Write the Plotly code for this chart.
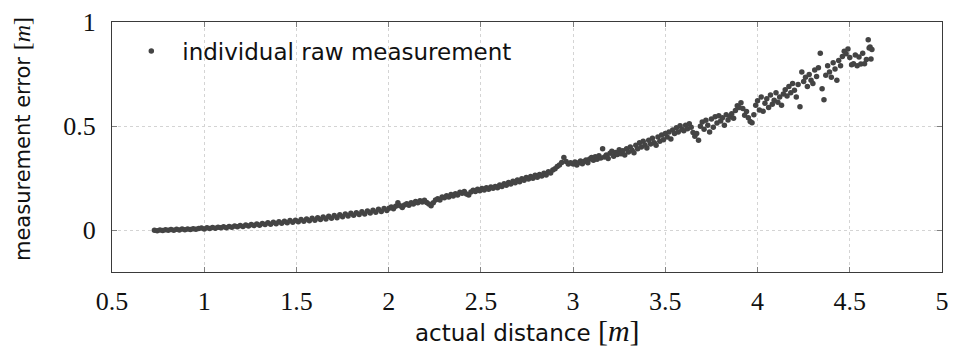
import plotly.graph_objects as go

# ---- data ----
distance_a = [0.730, 0.745, 0.760, 0.775, 0.790, 0.805, 0.820, 0.835, 0.850, 0.865,
              0.880, 0.895, 0.910, 0.925, 0.940, 0.955, 0.970, 0.985, 1.000, 1.015,
              1.030, 1.045, 1.060, 1.075, 1.090, 1.105, 1.120, 1.135, 1.150, 1.165,
              1.180, 1.195, 1.210, 1.225, 1.240, 1.255, 1.270, 1.285, 1.300, 1.315,
              1.330, 1.345, 1.360, 1.375, 1.390, 1.405, 1.420, 1.435, 1.450, 1.465,
              1.480, 1.495, 1.510, 1.525, 1.540, 1.555, 1.570, 1.585, 1.600, 1.615,
              1.630, 1.645, 1.660, 1.675, 1.690, 1.705, 1.720, 1.735, 1.750, 1.765,
              1.780, 1.795, 1.810, 1.825, 1.840, 1.855, 1.870, 1.885, 1.900, 1.915,
              1.930, 1.945, 1.960, 1.975, 1.990]
error_a = [0.000, -0.002, 0.002, -0.001, 0.003, 0.000, 0.004, 0.001, 0.005, 0.002,
           0.006, 0.003, 0.007, 0.004, 0.008, 0.005, 0.009, 0.011, 0.007, 0.012,
           0.009, 0.014, 0.010, 0.015, 0.012, 0.017, 0.013, 0.019, 0.015, 0.021,
           0.017, 0.023, 0.019, 0.026, 0.021, 0.028, 0.023, 0.031, 0.025, 0.033,
           0.028, 0.036, 0.029, 0.039, 0.032, 0.041, 0.034, 0.044, 0.036, 0.047,
           0.039, 0.049, 0.041, 0.052, 0.044, 0.055, 0.046, 0.058, 0.049, 0.061,
           0.052, 0.064, 0.055, 0.068, 0.058, 0.071, 0.061, 0.075, 0.065, 0.078,
           0.069, 0.082, 0.072, 0.085, 0.076, 0.089, 0.079, 0.093, 0.083, 0.097,
           0.087, 0.101, 0.091, 0.105, 0.095]

distance_b = [2.002, 2.014, 2.026, 2.038, 2.050, 2.062, 2.074, 2.086, 2.098, 2.110,
              2.122, 2.134, 2.146, 2.158, 2.170, 2.182, 2.194, 2.206, 2.218, 2.230,
              2.242, 2.254, 2.266, 2.278, 2.290, 2.302, 2.314, 2.326, 2.338, 2.350,
              2.362, 2.374, 2.386, 2.398, 2.410, 2.422, 2.434, 2.446, 2.458, 2.470,
              2.482, 2.494, 2.506, 2.518, 2.530, 2.542, 2.554, 2.566, 2.578, 2.590,
              2.602, 2.614, 2.626, 2.638, 2.650, 2.662, 2.674, 2.686, 2.698, 2.710,
              2.722, 2.734, 2.746, 2.758, 2.770, 2.782, 2.794, 2.806, 2.818, 2.830,
              2.842, 2.854, 2.866, 2.878, 2.890, 2.902, 2.914, 2.926, 2.938, 2.950,
              2.962, 2.974, 2.986]
error_b = [0.106, 0.112, 0.104, 0.116, 0.132, 0.118, 0.110, 0.122, 0.128, 0.120,
           0.133, 0.127, 0.138, 0.132, 0.142, 0.136, 0.145, 0.134, 0.126, 0.118,
           0.132, 0.146, 0.152, 0.146, 0.160, 0.156, 0.166, 0.160, 0.172, 0.165,
           0.176, 0.170, 0.183, 0.178, 0.186, 0.174, 0.170, 0.184, 0.192, 0.186,
           0.197, 0.190, 0.201, 0.194, 0.204, 0.197, 0.208, 0.202, 0.211, 0.205,
           0.218, 0.211, 0.224, 0.216, 0.230, 0.222, 0.236, 0.228, 0.242, 0.233,
           0.248, 0.240, 0.254, 0.246, 0.258, 0.250, 0.264, 0.255, 0.268, 0.261,
           0.274, 0.266, 0.281, 0.275, 0.290, 0.296, 0.306, 0.314, 0.326, 0.350,
           0.330, 0.318, 0.324]

distance_c = [3.00, 3.01, 3.02, 3.03, 3.04, 3.05, 3.06, 3.07, 3.08, 3.09,
              3.10, 3.11, 3.12, 3.13, 3.14, 3.15, 3.16, 3.17, 3.18, 3.19,
              3.20, 3.21, 3.22, 3.23, 3.24, 3.25, 3.26, 3.27, 3.28, 3.29,
              3.30, 3.31, 3.32, 3.33, 3.34, 3.35, 3.36, 3.37, 3.38, 3.39,
              3.40, 3.41, 3.42, 3.43, 3.44, 3.45, 3.46, 3.47, 3.48, 3.49,
              3.50, 3.51, 3.52, 3.53, 3.54, 3.55, 3.56, 3.57, 3.58, 3.59,
              3.60, 3.61, 3.62, 3.63, 3.64, 3.65, 3.66, 3.67, 3.68, 3.69,
              3.70, 3.71, 3.72, 3.73, 3.74, 3.75, 3.76, 3.77, 3.78, 3.79,
              3.80, 3.81, 3.82, 3.83, 3.84, 3.85, 3.86, 3.87, 3.88, 3.89,
              3.90, 3.91, 3.92, 3.93, 3.94, 3.95, 3.96, 3.97, 3.98, 3.99,
              4.00, 4.01, 4.02, 4.03, 4.04, 4.05, 4.06, 4.07, 4.08, 4.09,
              4.10, 4.11, 4.12, 4.13, 4.14, 4.15, 4.16, 4.17, 4.18, 4.19,
              4.20, 4.21, 4.22, 4.23, 4.24, 4.25, 4.26, 4.27, 4.28, 4.29,
              4.30, 4.31, 4.32, 4.33, 4.34, 4.35, 4.36, 4.37, 4.38, 4.39,
              4.40, 4.41, 4.42, 4.43, 4.44, 4.45, 4.46, 4.47, 4.48, 4.49,
              4.50, 4.51, 4.52, 4.53, 4.54, 4.55, 4.56, 4.57, 4.58, 4.59,
              4.60, 4.605, 4.61, 4.615, 4.62]
error_c = [0.318, 0.328, 0.314, 0.324, 0.333, 0.320, 0.330, 0.338, 0.325, 0.342,
           0.350, 0.336, 0.353, 0.341, 0.358, 0.347, 0.392, 0.352, 0.362, 0.345,
           0.370, 0.380, 0.356, 0.374, 0.364, 0.387, 0.368, 0.382, 0.362, 0.392,
           0.376, 0.400, 0.384, 0.372, 0.408, 0.392, 0.420, 0.400, 0.428, 0.410,
           0.395, 0.432, 0.415, 0.442, 0.420, 0.408, 0.448, 0.428, 0.458, 0.435,
           0.465, 0.448, 0.472, 0.438, 0.482, 0.465, 0.492, 0.472, 0.502, 0.485,
           0.478, 0.505, 0.488, 0.512, 0.495, 0.470, 0.452, 0.465, 0.432, 0.500,
           0.520, 0.485, 0.528, 0.505, 0.472, 0.535, 0.495, 0.545, 0.515, 0.550,
           0.525, 0.540, 0.505, 0.555, 0.530, 0.545, 0.560, 0.538, 0.575, 0.598,
           0.590, 0.612, 0.585, 0.552, 0.570, 0.540, 0.522, 0.517, 0.555, 0.600,
           0.622, 0.578, 0.640, 0.572, 0.610, 0.632, 0.590, 0.650, 0.605, 0.625,
           0.660, 0.615, 0.640, 0.600, 0.655, 0.675, 0.645, 0.690, 0.660, 0.705,
           0.672, 0.640, 0.700, 0.593, 0.760, 0.715, 0.735, 0.690, 0.748, 0.720,
           0.705, 0.770, 0.738, 0.780, 0.850, 0.680, 0.627, 0.745, 0.790, 0.760,
           0.735, 0.805, 0.775, 0.720, 0.815, 0.790, 0.835, 0.860, 0.848, 0.870,
           0.830, 0.795, 0.800, 0.842, 0.790, 0.832, 0.798, 0.850, 0.800, 0.820,
           0.915, 0.875, 0.880, 0.822, 0.868]

x_ticks = [0.5, 1, 1.5, 2, 2.5, 3, 3.5, 4, 4.5, 5]
x_tick_labels = ["0.5", "1", "1.5", "2", "2.5", "3", "3.5", "4", "4.5", "5"]
y_ticks = [0, 0.5, 1]
y_tick_labels = ["0", "0.5", "1"]

distance = distance_a + distance_b + distance_c
error = error_a + error_b + error_c

SANS = "DejaVu Sans"
SERIF = "Liberation Serif"
TEXT = "#111111"

fig = go.Figure()
fig.add_trace(go.Scatter(
    x=distance, y=error, mode="markers",
    name="individual raw measurement",
    marker=dict(color="#444444", size=5.5, line=dict(width=0)),
))

axis_common = dict(
    showline=True, linecolor="#3a3a3a", linewidth=1.2, mirror="ticks",
    ticks="inside", ticklen=5, tickcolor="#808080", tickwidth=1,
    showgrid=True, gridcolor="#d4d4d4", griddash="dot", gridwidth=1,
    zeroline=False, automargin=False,
    tickfont=dict(family=SERIF, size=26, color=TEXT),
)

x_bracket = '<span style="font-family:Liberation Serif;font-size:30px">[<i>m</i>]</span>'
y_bracket = '<span style="font-family:Liberation Serif;font-size:24px">[<i>m</i>]</span>'

fig.update_layout(
    width=948, height=344,
    margin=dict(l=104, r=14, t=14, b=80),
    paper_bgcolor="white", plot_bgcolor="white",
    showlegend=True,
    legend=dict(x=0.01, y=0.97, xanchor="left", yanchor="top",
                itemwidth=52,
                bgcolor="rgba(0,0,0,0)", borderwidth=0,
                font=dict(family=SANS, size=23, color=TEXT)),
    xaxis=dict(range=[0.5, 5], tickvals=x_ticks, ticktext=x_tick_labels,
               ticklabelstandoff=6, **axis_common),
    yaxis=dict(range=[-0.2, 1], tickvals=y_ticks, ticktext=y_tick_labels,
               ticklabelstandoff=10, **axis_common),
    annotations=[
        dict(text="actual distance " + x_bracket, xref="paper", yref="paper",
             x=0.5, y=-0.232, xanchor="center", yanchor="middle", showarrow=False,
             font=dict(family=SANS, size=23, color=TEXT)),
        dict(text="measurement error " + y_bracket, xref="paper", yref="paper",
             x=-0.109, y=0.53, xanchor="center", yanchor="middle", showarrow=False,
             textangle=-90, font=dict(family=SANS, size=21, color=TEXT)),
    ],
)

fig.write_html("out.html")
